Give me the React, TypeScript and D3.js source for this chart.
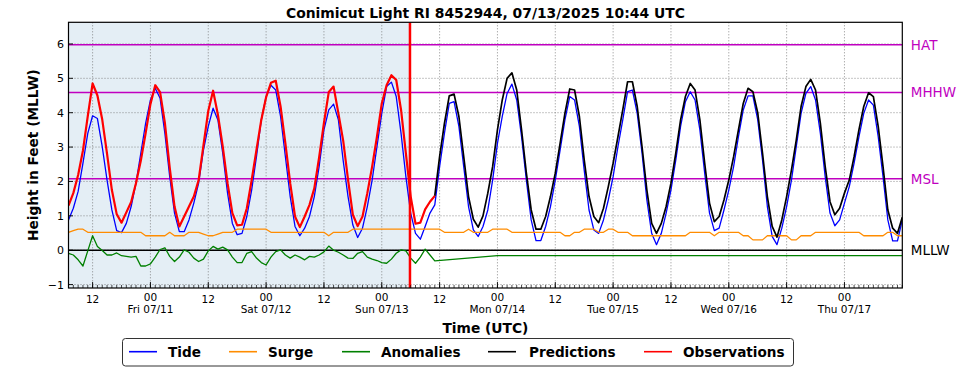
import React, { useRef, useEffect } from "react";
import * as d3 from "d3";

const WIDTH = 969;
const HEIGHT = 370;
const FONT = "'DejaVu Sans', sans-serif";

// hours are counted from 07/10 07:00 UTC, one value per hour
const LAST_HOUR = 173;
const NOW_HOUR = 70.85;
const PRED_START = 76;

const dayLabels = ["Fri 07/11", "Sat 07/12", "Sun 07/13", "Mon 07/14", "Tue 07/15", "Wed 07/16", "Thu 07/17"];
const yTicks = [-1, 0, 1, 2, 3, 4, 5, 6];

const datumNames = ["HAT", "MHHW", "MSL"];
const datumValues = [5.98, 4.59, 2.08];

const tide = [
  0.88, 1.22, 1.71, 2.53, 3.4, 3.91, 3.83, 3.01, 2.04, 1.17,
  0.57, 0.51, 0.78, 1.27, 1.95, 2.82, 3.69, 4.37, 4.71, 4.42,
  3.4, 2.14, 1.08, 0.54, 0.54, 0.88, 1.37, 1.95, 2.91, 3.6,
  4.13, 3.79, 2.82, 1.66, 0.78, 0.45, 0.49, 0.98, 1.75, 2.72,
  3.79, 4.47, 4.8, 4.66, 3.89, 2.72, 1.56, 0.69, 0.42, 0.64,
  0.98, 1.56, 2.43, 3.5, 4.08, 4.25, 3.79, 2.6, 1.56, 0.73,
  0.37, 0.64, 1.27, 2.04, 3.01, 3.98, 4.76, 4.89, 4.47, 3.4,
  2.14, 1.08, 0.49, 0.32, 0.69, 1.08, 1.32, 2.43, 3.4, 4.27,
  4.32, 3.6, 2.43, 1.27, 0.59, 0.4, 0.69, 1.17, 2.04, 3.11,
  3.89, 4.56, 4.83, 4.37, 3.3, 2.04, 0.88, 0.28, 0.28, 0.69,
  1.27, 2.04, 2.91, 3.79, 4.47, 4.37, 3.6, 2.33, 1.17, 0.59,
  0.49, 0.88, 1.46, 2.14, 3.01, 3.79, 4.61, 4.66, 3.98, 2.82,
  1.46, 0.49, 0.16, 0.49, 1.08, 1.75, 2.62, 3.6, 4.32, 4.61,
  4.37, 3.5, 2.24, 1.08, 0.57, 0.64, 1.17, 1.75, 2.43, 3.3,
  4.08, 4.49, 4.49, 3.8, 2.62, 1.27, 0.4, 0.16, 0.64, 1.27,
  2.04, 3.01, 3.98, 4.56, 4.76, 4.37, 3.4, 2.14, 1.08, 0.71,
  0.88, 1.37, 1.85, 2.53, 3.3, 3.98, 4.37, 4.22, 3.3, 2.14,
  0.88, 0.27, 0.27, 0.88,
];

const surge = [
  0.52, 0.57, 0.61, 0.61, 0.52, 0.52, 0.52, 0.52, 0.52, 0.52,
  0.52, 0.52, 0.52, 0.52, 0.52, 0.52, 0.42, 0.42, 0.42, 0.42,
  0.42, 0.52, 0.42, 0.42, 0.42, 0.52, 0.52, 0.52, 0.47, 0.42,
  0.42, 0.47, 0.52, 0.52, 0.52, 0.61, 0.61, 0.61, 0.61, 0.61,
  0.61, 0.61, 0.52, 0.52, 0.52, 0.52, 0.52, 0.52, 0.52, 0.52,
  0.52, 0.52, 0.52, 0.52, 0.42, 0.52, 0.52, 0.52, 0.52, 0.61,
  0.61, 0.61, 0.61, 0.61, 0.61, 0.61, 0.61, 0.61, 0.61, 0.61,
  0.61, 0.61, 0.61, 0.61, 0.61, 0.61, 0.61, 0.61, 0.52, 0.52,
  0.52, 0.52, 0.52, 0.61, 0.52, 0.52, 0.52, 0.52, 0.61, 0.61,
  0.61, 0.61, 0.52, 0.52, 0.52, 0.52, 0.52, 0.52, 0.52, 0.52,
  0.52, 0.52, 0.52, 0.42, 0.42, 0.52, 0.52, 0.61, 0.61, 0.61,
  0.52, 0.52, 0.61, 0.61, 0.52, 0.52, 0.52, 0.42, 0.42, 0.42,
  0.42, 0.42, 0.42, 0.42, 0.42, 0.42, 0.42, 0.42, 0.42, 0.52,
  0.52, 0.52, 0.52, 0.52, 0.42, 0.52, 0.52, 0.52, 0.52, 0.52,
  0.42, 0.42, 0.3, 0.3, 0.3, 0.42, 0.42, 0.42, 0.42, 0.42,
  0.3, 0.3, 0.42, 0.42, 0.42, 0.52, 0.52, 0.52, 0.52, 0.52,
  0.52, 0.52, 0.52, 0.52, 0.52, 0.42, 0.42, 0.42, 0.42, 0.42,
  0.52, 0.52, 0.42, 0.42,
];

// observed anomaly, hourly from hour 0
const anomalyObs = [
  -0.09, -0.14, -0.28, -0.46, -0.02, 0.42, 0.11, -0.01, -0.14, -0.14,
  -0.08, -0.16, -0.18, -0.2, -0.18, -0.46, -0.46, -0.4, -0.2, 0.02,
  0.07, -0.18, -0.33, -0.2, 0.01, -0.06, -0.23, -0.33, -0.26, -0.02,
  0.11, 0.03, 0.09, 0.01, -0.2, -0.36, -0.36, -0.09, -0.04, -0.23,
  -0.36, -0.43, -0.2, -0.04, 0.01, -0.14, -0.23, -0.14, -0.2, -0.28,
  -0.18, -0.2, -0.14, -0.05, 0.12, 0.0, -0.06, -0.14, -0.23, -0.24,
  -0.09, -0.04, -0.2, -0.26, -0.3, -0.36, -0.38, -0.26, -0.09, 0.01,
  -0.02, -0.23, -0.38, -0.2, 0.03, -0.14, -0.31,
];
// forecast anomaly (straight segments)
const anomalyFcstHours = [89, 173];
const anomalyFcst = [-0.16, -0.16];

const observations = [
  1.3, 1.66, 2.19, 2.9, 3.9, 4.85, 4.5, 3.8, 2.8, 1.75,
  1.05, 0.8, 1.1, 1.4, 1.95, 2.6, 3.4, 4.25, 4.8, 4.6,
  3.7, 2.4, 1.27, 0.69, 0.98, 1.27, 1.56, 2.04, 3.05, 4.05,
  4.64, 3.94, 3.02, 1.95, 1.08, 0.72, 0.74, 1.22, 2.04, 2.92,
  3.79, 4.45, 4.87, 4.93, 4.18, 3.11, 1.95, 0.98, 0.67, 0.98,
  1.32, 1.8, 2.7, 3.7, 4.6, 4.76, 3.98, 3.18, 2.05, 1.03,
  0.7, 0.98, 1.66, 2.43, 3.3, 4.27, 4.8, 5.09, 4.95, 4.08,
  2.82, 1.56, 0.77, 0.8, 1.19, 1.41, 1.58,
];

// predictions, hourly from PRED_START
const predictions = [
  1.58, 2.72, 3.69, 4.49, 4.54, 3.89, 2.72, 1.56, 0.9, 0.67,
  1.0, 1.66, 2.43, 3.5, 4.37, 5.0, 5.16, 4.66, 3.5, 2.24,
  1.17, 0.61, 0.61, 0.98, 1.56, 2.24, 3.11, 3.98, 4.69, 4.66,
  3.89, 2.63, 1.56, 0.98, 0.8, 1.22, 1.85, 2.53, 3.3, 4.08,
  4.9, 4.9, 4.18, 3.01, 1.75, 0.78, 0.49, 0.78, 1.27, 1.95,
  2.82, 3.79, 4.47, 4.85, 4.66, 3.79, 2.53, 1.37, 0.83, 0.98,
  1.46, 2.04, 2.72, 3.5, 4.27, 4.71, 4.61, 4.0, 2.82, 1.56,
  0.69, 0.38, 0.88, 1.56, 2.33, 3.2, 4.18, 4.76, 4.97, 4.66,
  3.69, 2.43, 1.41, 1.03, 1.22, 1.66, 2.04, 2.72, 3.5, 4.18,
  4.58, 4.47, 3.6, 2.43, 1.17, 0.64, 0.49, 0.96,
];

const legendNames = ["Tide", "Surge", "Anomalies", "Predictions", "Observations"];
const legendColors = ["#0000ff", "#ff8c00", "#008000", "#000000", "#ff0000"];

function drawChart(svgEl: SVGSVGElement) {
  const margin = { left: 68.5, right: 902.3, top: 22.3, bottom: 288 };
  const svg = d3.select(svgEl);
  svg.selectAll("*").remove();

  const x = d3.scaleLinear().domain([0, LAST_HOUR]).range([margin.left, margin.right]);
  const y = d3.scaleLinear().domain([-1.1, 6.63]).range([margin.bottom, margin.top]);

  svg
    .append("defs")
    .append("clipPath")
    .attr("id", "plotclip")
    .append("rect")
    .attr("x", margin.left)
    .attr("y", margin.top)
    .attr("width", margin.right - margin.left)
    .attr("height", margin.bottom - margin.top);

  const plot = svg.append("g").attr("clip-path", "url(#plotclip)");

  // past period shading
  plot
    .append("rect")
    .attr("x", x(0))
    .attr("y", margin.top)
    .attr("width", x(NOW_HOUR) - x(0))
    .attr("height", margin.bottom - margin.top)
    .attr("fill", "#e4eef5");

  const labelHours = d3.range(5, LAST_HOUR, 12);

  // grid
  plot
    .selectAll(".hgrid")
    .data(yTicks)
    .enter()
    .append("line")
    .attr("x1", margin.left)
    .attr("x2", margin.right)
    .attr("y1", (d) => y(d))
    .attr("y2", (d) => y(d))
    .attr("stroke", "#707070")
    .attr("stroke-width", 0.8)
    .attr("stroke-dasharray", "1,2");
  plot
    .selectAll(".vgrid")
    .data(labelHours)
    .enter()
    .append("line")
    .attr("x1", (d) => x(d))
    .attr("x2", (d) => x(d))
    .attr("y1", margin.top)
    .attr("y2", margin.bottom)
    .attr("stroke", "#707070")
    .attr("stroke-width", 0.8)
    .attr("stroke-dasharray", "1,2");

  // datum lines
  plot
    .selectAll(".datum")
    .data(datumValues)
    .enter()
    .append("line")
    .attr("x1", margin.left)
    .attr("x2", margin.right)
    .attr("y1", (d) => y(d))
    .attr("y2", (d) => y(d))
    .attr("stroke", "#c000c0")
    .attr("stroke-width", 1.5);
  plot
    .append("line")
    .attr("x1", margin.left)
    .attr("x2", margin.right)
    .attr("y1", y(0))
    .attr("y2", y(0))
    .attr("stroke", "#000")
    .attr("stroke-width", 1.5);

  const hourLine = (start: number) =>
    d3
      .line<number>()
      .x((_d, i) => x(i + start))
      .y((d) => y(d));

  const drawPath = (d: string | null, color: string, width: number) =>
    plot
      .append("path")
      .attr("d", d)
      .attr("fill", "none")
      .attr("stroke", color)
      .attr("stroke-width", width)
      .attr("stroke-linejoin", "round");

  drawPath(hourLine(0)(tide), legendColors[0], 1.3);
  drawPath(hourLine(0)(surge), legendColors[1], 1.3);
  const anomalyPoints: [number, number][] = anomalyObs
    .map((v, i) => [i, v] as [number, number])
    .concat(anomalyFcstHours.map((h, i) => [h, anomalyFcst[i]] as [number, number]));
  drawPath(
    d3
      .line<[number, number]>()
      .x((d) => x(d[0]))
      .y((d) => y(d[1]))(anomalyPoints),
    legendColors[2],
    1.3
  );
  drawPath(hourLine(PRED_START)(predictions), legendColors[3], 1.7);
  drawPath(hourLine(0)(observations), legendColors[4], 2.2);

  // now line
  plot
    .append("line")
    .attr("x1", x(NOW_HOUR))
    .attr("x2", x(NOW_HOUR))
    .attr("y1", margin.top)
    .attr("y2", margin.bottom)
    .attr("stroke", "#ff0000")
    .attr("stroke-width", 2.5);

  // ticks
  const axes = svg.append("g");
  axes
    .selectAll(".minor")
    .data(d3.range(0, LAST_HOUR + 1))
    .enter()
    .append("line")
    .attr("x1", (d) => x(d))
    .attr("x2", (d) => x(d))
    .attr("y1", margin.bottom)
    .attr("y2", margin.bottom - 3)
    .attr("stroke", "#000")
    .attr("stroke-width", 0.7);
  axes
    .selectAll(".major")
    .data(labelHours)
    .enter()
    .append("line")
    .attr("x1", (d) => x(d))
    .attr("x2", (d) => x(d))
    .attr("y1", margin.bottom)
    .attr("y2", margin.bottom - 6)
    .attr("stroke", "#000")
    .attr("stroke-width", 0.9);
  axes
    .selectAll(".ytick")
    .data(yTicks)
    .enter()
    .append("line")
    .attr("x1", margin.left)
    .attr("x2", margin.left + 4.5)
    .attr("y1", (d) => y(d))
    .attr("y2", (d) => y(d))
    .attr("stroke", "#000")
    .attr("stroke-width", 0.9);

  // frame
  svg
    .append("rect")
    .attr("x", margin.left)
    .attr("y", margin.top)
    .attr("width", margin.right - margin.left)
    .attr("height", margin.bottom - margin.top)
    .attr("fill", "none")
    .attr("stroke", "#000")
    .attr("stroke-width", 1.2);

  // y tick labels
  axes
    .selectAll(".ylab")
    .data(yTicks)
    .enter()
    .append("text")
    .attr("x", margin.left - 4.5)
    .attr("y", (d) => y(d) + 4)
    .attr("text-anchor", "end")
    .style("font-family", FONT)
    .style("font-size", "11px")
    .text((d) => (d < 0 ? `\u2212${-d}` : `${d}`));

  // x tick labels
  labelHours.forEach((h, i) => {
    const isMidnight = i % 2 === 1;
    axes
      .append("text")
      .attr("x", x(h))
      .attr("y", isMidnight ? 301 : 302.7)
      .attr("text-anchor", "middle")
      .style("font-family", FONT)
      .style("font-size", "10.5px")
      .text(isMidnight ? "00" : "12");
    if (isMidnight) {
      axes
        .append("text")
        .attr("x", x(h))
        .attr("y", 313.3)
        .attr("text-anchor", "middle")
        .style("font-family", FONT)
        .style("font-size", "10.5px")
        .text(dayLabels[(i - 1) / 2]);
    }
  });

  // datum labels
  datumNames.forEach((name, i) => {
    svg
      .append("text")
      .attr("x", margin.right + 8.5)
      .attr("y", y(datumValues[i]) + 5)
      .attr("fill", "#c000c0")
      .style("font-family", FONT)
      .style("font-size", "13.5px")
      .text(name);
  });
  svg
    .append("text")
    .attr("x", margin.right + 8.5)
    .attr("y", y(0) + 5)
    .attr("fill", "#000")
    .style("font-family", FONT)
    .style("font-size", "13.5px")
    .text("MLLW");

  // titles
  svg
    .append("text")
    .attr("x", (margin.left + margin.right) / 2)
    .attr("y", 18)
    .attr("text-anchor", "middle")
    .style("font-family", FONT)
    .style("font-size", "13.9px")
    .style("font-weight", "bold")
    .text("Conimicut Light RI 8452944, 07/13/2025 10:44 UTC");
  svg
    .append("text")
    .attr("x", (margin.left + margin.right) / 2)
    .attr("y", 333)
    .attr("text-anchor", "middle")
    .style("font-family", FONT)
    .style("font-size", "13.8px")
    .style("font-weight", "bold")
    .text("Time (UTC)");
  svg
    .append("text")
    .attr("transform", `translate(38,${(margin.top + margin.bottom) / 2}) rotate(-90)`)
    .attr("text-anchor", "middle")
    .style("font-family", FONT)
    .style("font-size", "13.7px")
    .style("font-weight", "bold")
    .text("Height in Feet (MLLW)");

  // legend
  const legend = svg.append("g");
  legend
    .append("rect")
    .attr("x", 122.5)
    .attr("y", 338.5)
    .attr("width", 671)
    .attr("height", 27.5)
    .attr("rx", 3)
    .attr("fill", "#fff")
    .attr("stroke", "#333")
    .attr("stroke-width", 1);
  const lineStarts = [129, 229, 342, 488, 644];
  const textStarts = [168, 268, 381, 529, 683];
  legendNames.forEach((name, i) => {
    legend
      .append("line")
      .attr("x1", lineStarts[i])
      .attr("x2", lineStarts[i] + 28)
      .attr("y1", 351.7)
      .attr("y2", 351.7)
      .attr("stroke", legendColors[i])
      .attr("stroke-width", 1.6);
    legend
      .append("text")
      .attr("x", textStarts[i])
      .attr("y", 356.5)
      .style("font-family", FONT)
      .style("font-size", "13.6px")
      .style("font-weight", "bold")
      .text(name);
  });
}

const App: React.FunctionComponent = function () {
  const svgRef = useRef<SVGSVGElement>(null);

  useEffect(() => {
    if (svgRef.current == null) {
      return;
    }
    drawChart(svgRef.current);
  }, []);

  return (
    <svg
      ref={svgRef}
      width={WIDTH}
      height={HEIGHT}
      style={{ position: "absolute", left: 0, top: 0, background: "#fff" }}
    />
  );
};

export default App;
